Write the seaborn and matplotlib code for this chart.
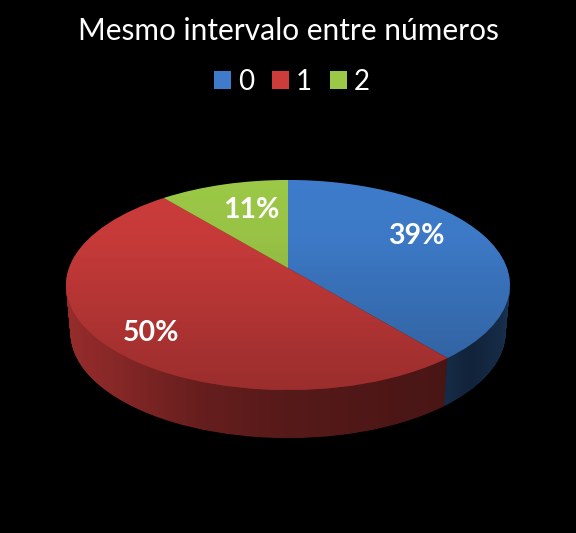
import numpy as np
import matplotlib
matplotlib.use("Agg")
import matplotlib.pyplot as plt
from matplotlib.patches import Circle
from matplotlib.transforms import Transform
import seaborn as sns

title = "Mesmo intervalo entre números"
categories = ["0", "1", "2"]
shares = [39, 50, 11]
label_positions = [(416, 236), (151, 333), (251, 210)]
colors = ["#3e7ccb", "#cb3c3b", "#9cc847"]

sns.set_theme(style="dark", rc={"figure.facecolor": "black", "axes.facecolor": "black"})
plt.rcParams["font.family"] = ["Lato", "DejaVu Sans"]
palette = sns.color_palette(colors)


class Tilt(Transform):
    """Perspective view of the flat pie disc, output in pixels."""
    input_dims = 2
    output_dims = 2
    is_affine = False
    has_inverse = False

    def __init__(self, drop=0.0):
        super().__init__()
        self.drop = drop

    def transform_non_affine(self, xy):
        xy = np.asarray(xy, dtype=float)
        w = 1 + 0.1619 * xy[:, 1]
        taper = 1 - 0.02 * self.drop / 48
        px = 288 + 219 * taper * xy[:, 0] / w
        py = (268 - 58.9 * xy[:, 1]) / w + self.drop
        return np.column_stack([px, py])


fig = plt.figure(figsize=(5.76, 5.33), dpi=100, facecolor="black")
ax = fig.add_axes([0, 0, 1, 1])

# side wall: the pie repeated downwards
for drop in np.arange(48, 0, -0.5):
    wall, _ = ax.pie(shares, colors=palette, startangle=90, counterclock=False,
                     wedgeprops={"linewidth": 0})
    for w in wall:
        w.set_transform(Tilt(drop) + ax.transData)
        w.set_zorder(1)

# side shading (black veil; black background hides it elsewhere)
xs = np.linspace(0, 576, 577)
veil = np.interp(xs, [67, 110, 200, 288, 440, 470, 500, 512],
                 [0.26, 0.33, 0.50, 0.58, 0.64, 0.72, 0.66, 0.58])
rgba = np.zeros((1, xs.size, 4))
rgba[:, :, 3] = veil
ax.imshow(rgba, extent=(0, 576, 533, 0), aspect="auto", zorder=2, interpolation="bilinear")

# top face
top, _ = ax.pie(shares, colors=palette, startangle=90, counterclock=False,
                wedgeprops={"linewidth": 0})
for w in top:
    w.set_transform(Tilt() + ax.transData)
    w.set_zorder(3)

# top face vertical shading
ys = np.linspace(0, 533, 534)
shade = np.interp(ys, [180, 240, 390], [0.0, 0.03, 0.24])
rgba2 = np.zeros((ys.size, 1, 4))
rgba2[:, 0, 3] = shade
im = ax.imshow(rgba2, extent=(0, 576, 533, 0), aspect="auto", zorder=4, interpolation="bilinear")
disc = Circle((0, 0), 1, transform=Tilt() + ax.transData)
im.set_clip_path(disc)

ax.set_aspect("auto")
ax.set_xlim(0, 576)
ax.set_ylim(533, 0)
ax.axis("off")

# percentage labels
for share, (lx, ly) in zip(shares, label_positions):
    ax.text(lx, ly, f"{share}%", color="white", fontsize=20.5, fontweight="bold",
            ha="center", va="center", zorder=5)

fig.text(288 / 576, 1 - 31 / 533, title, color="white", fontsize=21.5,
         ha="center", va="center")

leg = fig.legend(top, categories, ncol=3, loc="center",
                 bbox_to_anchor=(292 / 576, 1 - 82 / 533), frameon=False,
                 fontsize=20, labelcolor="white", handlelength=0.6, handleheight=0.6,
                 handletextpad=0.25, columnspacing=0.65, borderpad=0)

fig.savefig("out.png", dpi=100, facecolor="black")
